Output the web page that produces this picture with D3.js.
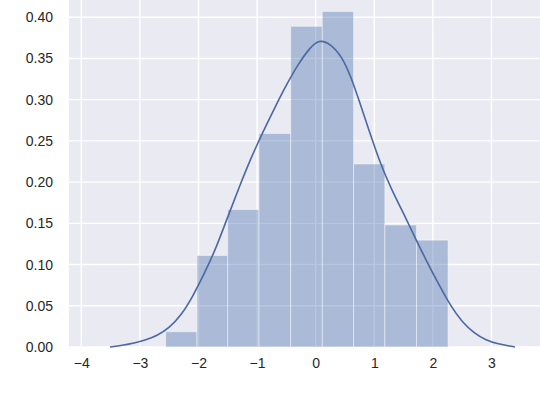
<!DOCTYPE html>
<html>
<head>
<meta charset="utf-8">
<script src="https://cdn.jsdelivr.net/npm/d3@7"></script>
<style>
  body { margin: 0; background: #fff; }
  svg text { font-family: "Liberation Sans", Arial, sans-serif; font-size: 14px; fill: #262626; }
</style>
</head>
<body>
<div id="chart"></div>
<script>
// histogram bins (density)
var binEdges = [-2.56, -2.026, -1.502, -0.968, -0.427, 0.113, 0.647, 1.18, 1.72, 2.259];
var binDensity = [0.0185, 0.111, 0.1667, 0.259, 0.389, 0.407, 0.222, 0.148, 0.1296];

// kde curve
var kdeX = [-3.51, -3.3, -3.1, -2.9, -2.7, -2.5, -2.3, -2.1, -1.9, -1.7, -1.5, -1.3, -1.1, -0.9, -0.7, -0.5, -0.3, -0.1, 0.06, 0.25, 0.45, 0.6, 0.75, 0.9, 1.1, 1.3, 1.5, 1.7, 1.9, 2.1, 2.3, 2.5, 2.7, 2.9, 3.1, 3.3, 3.4];
var kdeY = [0.0, 0.002, 0.0045, 0.0085, 0.014, 0.023, 0.038, 0.061, 0.089, 0.12, 0.158, 0.195, 0.23, 0.261, 0.29, 0.318, 0.343, 0.363, 0.373, 0.368, 0.352, 0.328, 0.297, 0.265, 0.223, 0.19, 0.162, 0.132, 0.103, 0.076, 0.05, 0.03, 0.017, 0.0085, 0.0038, 0.0012, 0.0];

var xTicks = [-4, -3, -2, -1, 0, 1, 2, 3];
var yTicks = [0, 0.05, 0.10, 0.15, 0.20, 0.25, 0.30, 0.35, 0.40];

var width = 540, height = 397;
// note: "top" is taken by window.top, so prefix these
var plotLeft = 69, plotRight = 540, plotTop = 0, plotBottom = 347;

var x = d3.scaleLinear().domain([-4.21, 3.828]).range([plotLeft, plotRight]);
var y = d3.scaleLinear().domain([0, 0.4209]).range([plotBottom, plotTop]);

var svg = d3.select("#chart").append("svg")
    .attr("width", width)
    .attr("height", height);

svg.append("rect")
    .attr("x", plotLeft).attr("y", plotTop)
    .attr("width", plotRight - plotLeft).attr("height", plotBottom - plotTop)
    .attr("fill", "#eaeaf2");

// grid
svg.append("g").selectAll("line")
    .data(xTicks)
  .enter().append("line")
    .attr("x1", function(d) { return x(d); })
    .attr("x2", function(d) { return x(d); })
    .attr("y1", plotTop).attr("y2", plotBottom)
    .attr("stroke", "#fff").attr("stroke-width", 1.4);

svg.append("g").selectAll("line")
    .data(yTicks)
  .enter().append("line")
    .attr("x1", plotLeft).attr("x2", plotRight)
    .attr("y1", function(d) { return y(d); })
    .attr("y2", function(d) { return y(d); })
    .attr("stroke", "#fff").attr("stroke-width", 1.4);

// bars
svg.append("g").selectAll("rect")
    .data(binDensity)
  .enter().append("rect")
    .attr("x", function(d, i) { return x(binEdges[i]); })
    .attr("width", function(d, i) { return x(binEdges[i + 1]) - x(binEdges[i]); })
    .attr("y", function(d) { return y(d); })
    .attr("height", function(d) { return y(0) - y(d); })
    .attr("fill", "#4c72b0").attr("fill-opacity", 0.4)
    .attr("stroke", "#fff").attr("stroke-opacity", 0.45).attr("stroke-width", 1);

// kde, basis spline to smooth out reading noise
var line = d3.line()
    .x(function(d, i) { return x(kdeX[i]); })
    .y(function(d) { return y(d); })
    .curve(d3.curveBasis);

svg.append("path")
    .datum(kdeY)
    .attr("d", line)
    .attr("fill", "none")
    .attr("stroke", "#4a68a3")
    .attr("stroke-width", 1.6);

// axes (no tick marks, seaborn darkgrid)
var xAxis = d3.axisBottom(x).tickValues(xTicks).tickSize(0).tickPadding(11)
    .tickFormat(function(d) { return d < 0 ? "\u2212" + Math.abs(d) : d; });
var yAxis = d3.axisLeft(y).tickValues(yTicks).tickSize(0).tickPadding(16)
    .tickFormat(d3.format(".2f"));

svg.append("g")
    .attr("transform", "translate(0," + plotBottom + ")")
    .call(xAxis)
    .call(function(g) { g.select(".domain").remove(); })
    .selectAll("text").attr("font-size", 14).attr("fill", "#262626");

svg.append("g")
    .attr("transform", "translate(" + plotLeft + ",0)")
    .call(yAxis)
    .call(function(g) { g.select(".domain").remove(); })
    .selectAll("text").attr("font-size", 14).attr("fill", "#262626");
</script>
</body>
</html>
